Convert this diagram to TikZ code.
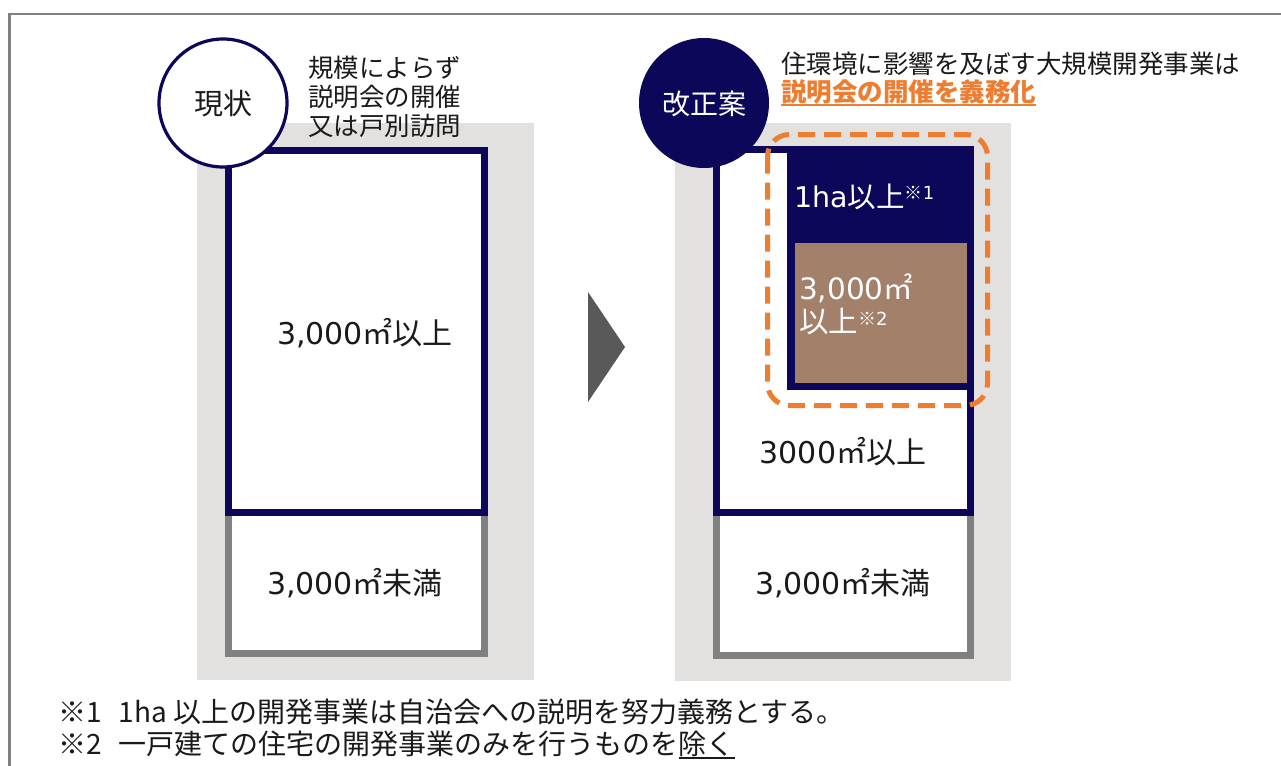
\documentclass[tikz,border=0pt]{standalone}
\usepackage{fontspec}
\setmainfont{Noto Sans CJK JP}
\newfontfamily\lat{DejaVu Sans}
\definecolor{navy}{HTML}{0C0758}
\definecolor{bggray}{HTML}{E2E1E0}
\definecolor{edgegray}{HTML}{808080}
\definecolor{brownbox}{HTML}{A2806A}
\definecolor{accent}{HTML}{ED7D31}
\definecolor{ink}{HTML}{1A1A1A}
\definecolor{arrowgray}{HTML}{595959}
\newcommand\fatul[1]{\setbox0=\hbox{#1}\rlap{\rule[-4.5pt]{\wd0}{1.8pt}}\box0}
\tikzset{
  txt/.style={inner sep=0pt, text=ink},
  panelbg/.style={fill=bggray, draw=none},
  navybox/.style={draw=navy, line width=7pt, fill=white},
  graybox/.style={draw=edgegray, line width=7pt, fill=white},
}
\begin{document}
\begin{tikzpicture}[x=1pt,y=-1pt]
\useasboundingbox (0,0) rectangle (1281,765);
\fill[white] (0,0) rectangle (1281,765);
% outer frame
\draw[edgegray, line width=2.5pt] (9.7,770) -- (9.7,13.8) -- (1290,13.8);

% ---------- left panel ----------
\fill[panelbg] (197,123) rectangle (534,680);
\draw[graybox] (228,512) rectangle (484,653);
\draw[navybox] (228,150) rectangle (484,512);
\draw[navy, line width=3.2pt, fill=white] (223,103) circle (64);
\node[txt, font=\fontsize{29}{34}\selectfont] (now) at (223,104) {現状};
\node[txt, anchor=west, align=left, font=\fontsize{25.5}{29}\selectfont] (rule) at (308,97) {規模によらず\\説明会の開催\\又は戸別訪問};
\node[txt, font=\fontsize{30}{34}\selectfont] (lup) at (365,333) {{\lat 3,000}㎡以上};
\node[txt, font=\fontsize{30}{34}\selectfont] (llow) at (355,583) {{\lat 3,000}㎡未満};

% arrow
\fill[arrowgray] (588,292) -- (625,347) -- (588,402) -- cycle;

% ---------- right panel ----------
\fill[panelbg] (675,123) rectangle (1011,681);
\draw[graybox] (716,512) rectangle (970,655);
\draw[navybox] (716,149) rectangle (970,512);
\fill[navy] (787,145.5) rectangle (973.5,390);
\fill[brownbox] (795,243) rectangle (967,383);
\draw[accent, line width=5pt, dash pattern=on 17pt off 9pt, rounded corners=22pt]
  (767.5,134.5) rectangle (987.5,405.5);
\fill[navy] (704,103) circle (65);
\node[txt, text=white, font=\fontsize{28}{32}\selectfont] (plan) at (704,104) {改正案};
\node[txt, anchor=west, font=\fontsize{25.5}{29}\selectfont] (t1) at (781,64) {住環境に影響を及ぼす大規模開発事業は};
\node[txt, anchor=west, text=accent, font=\fontsize{25.5}{29}\selectfont\bfseries] (t2) at (781,93) {\fatul{説明会の開催を義務化}};
\node[txt, anchor=west, text=white, font=\fontsize{28.5}{34}\selectfont] (ha) at (794,197) {{\lat 1ha}以上\raisebox{8pt}{\fontsize{18}{20}\selectfont ※{\lat 1}}};
\node[txt, anchor=west, text=white, align=left, font=\fontsize{29.5}{33}\selectfont] (brn) at (799,304) {{\lat 3,000}㎡\\以上\raisebox{7pt}{\fontsize{18}{20}\selectfont ※{\lat 2}}};
\node[txt, font=\fontsize{30}{34}\selectfont] (rmid) at (843,452) {{\lat 3000}㎡以上};
\node[txt, font=\fontsize{30}{34}\selectfont] (rlow) at (843,583) {{\lat 3,000}㎡未満};

% footnotes
\node[txt, anchor=west, font=\fontsize{28}{32}\selectfont] (fn1) at (58,712) {※1\hspace{0.6em}1ha 以上の開発事業は自治会への説明を努力義務とする。};
\node[txt, anchor=west, font=\fontsize{28}{32}\selectfont] (fn2) at (58,745) {※2\hspace{0.6em}一戸建ての住宅の開発事業のみを行うものを\fatul{除く}};
\end{tikzpicture}
\end{document}
